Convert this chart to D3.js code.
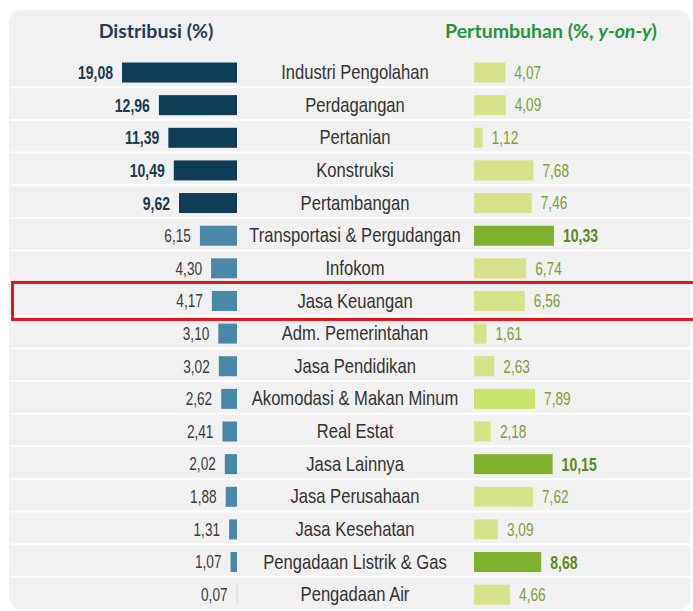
<!DOCTYPE html>
<html>
<head>
<meta charset="utf-8">
<script src="https://cdn.jsdelivr.net/npm/d3@7"></script>
<style>
  body { margin: 0; background: #fff; }
  svg { display: block; }
</style>
</head>
<body>
<svg width="693" height="611"></svg>
<script>
// sectors, share of GDP (%) and growth (%, y-on-y)
var sectors = ["Industri Pengolahan", "Perdagangan", "Pertanian", "Konstruksi", "Pertambangan",
  "Transportasi & Pergudangan", "Infokom", "Jasa Keuangan", "Adm. Pemerintahan", "Jasa Pendidikan",
  "Akomodasi & Makan Minum", "Real Estat", "Jasa Lainnya", "Jasa Perusahaan", "Jasa Kesehatan",
  "Pengadaan Listrik & Gas", "Pengadaan Air"];
var distribusi = [19.08, 12.96, 11.39, 10.49, 9.62, 6.15, 4.30, 4.17, 3.10, 3.02, 2.62, 2.41, 2.02, 1.88, 1.31, 1.07, 0.07];
var pertumbuhan = [4.07, 4.09, 1.12, 7.68, 7.46, 10.33, 6.74, 6.56, 1.61, 2.63, 7.89, 2.18, 10.15, 7.62, 3.09, 8.68, 4.66];
var highlight = "Jasa Keuangan";

var svg = d3.select("svg");
var fmt = function (v) { return d3.format(".2f")(v).replace(".", ","); };
var narrow = "'Liberation Sans', Arial, sans-serif";

var rows = sectors.map(function (s, i) { return { name: s, dist: distribusi[i], grow: pertumbuhan[i] }; });

// scales
var y = d3.scaleBand().domain(sectors).range([56.2, 611]).paddingInner(0);
var xL = d3.scaleLinear().domain([0, d3.max(distribusi)]).range([0, 115]);
var xR = d3.scaleLinear().domain([0, 10.33]).range([0, 80]);
var leftEnd = 237, rightStart = 474;
var barH = 20;
var colL = d3.scaleThreshold().domain([9]).range(["#4a88a8", "#0f3d57"]);
var colR = d3.scaleThreshold().domain([7.8, 8.5]).range(["#d8e28a", "#cbe46c", "#7fb02e"]);

// card
svg.append("rect")
  .attr("x", 9).attr("y", 10)
  .attr("width", 682).attr("height", 600)
  .attr("rx", 13)
  .attr("fill", "#f1f1f1");

// row separators
svg.append("g").selectAll("line")
  .data(sectors.slice(1))
  .enter().append("line")
    .attr("x1", 10).attr("x2", 691)
    .attr("y1", function (d) { return y(d) - 1.5; })
    .attr("y2", function (d) { return y(d) - 1.5; })
    .attr("stroke", "#ffffff")
    .attr("stroke-width", 2);

// headers
svg.append("text")
  .attr("x", 156).attr("y", 38)
  .attr("text-anchor", "middle")
  .attr("font-family", "Lato, sans-serif")
  .attr("font-weight", "bold")
  .attr("font-size", 19.5)
  .attr("fill", "#1d3d5a")
  .text("Distribusi (%)");

var h2 = svg.append("text")
  .attr("x", 551).attr("y", 38)
  .attr("text-anchor", "middle")
  .attr("font-family", "Lato, sans-serif")
  .attr("font-weight", "bold")
  .attr("font-size", 19.5)
  .attr("fill", "#22963c");
h2.append("tspan").text("Pertumbuhan (%, ");
h2.append("tspan").attr("font-style", "italic").text("y-on-y");
h2.append("tspan").text(")");

var g = svg.append("g").selectAll("g")
  .data(rows)
  .enter().append("g")
    .attr("transform", function (d) { return "translate(0," + (y(d.name) + y.bandwidth() / 2) + ")"; });

// left bars
g.append("rect")
  .attr("x", function (d) { return leftEnd - xL(d.dist); })
  .attr("y", -barH / 2)
  .attr("width", function (d) { return Math.max(xL(d.dist), 1); })
  .attr("height", barH)
  .attr("fill", function (d) { return d.dist < 1 ? "#d6d6d6" : colL(d.dist); });

// text is drawn narrow (squeezed like the original)
g.append("text")
  .attr("transform", function (d) { return "translate(" + (leftEnd - xL(d.dist) - 9) + ",0) scale(0.78,1)"; })
  .attr("dy", "0.36em")
  .attr("text-anchor", "end")
  .attr("font-family", narrow)
  .attr("font-size", function (d) { return d.dist >= 9 ? 18 : 17.5; })
  .attr("font-weight", function (d) { return d.dist >= 9 ? "bold" : "normal"; })
  .attr("fill", function (d) { return d.dist >= 9 ? "#1b3a50" : "#3c3c3c"; })
  .text(function (d) { return fmt(d.dist); });

// category names
g.append("text")
  .attr("transform", "translate(355,0) scale(0.83,1)")
  .attr("dy", "0.33em")
  .attr("text-anchor", "middle")
  .attr("font-family", narrow)
  .attr("font-size", 20)
  .attr("fill", "#333333")
  .text(function (d) { return d.name; });

// right bars
g.append("rect")
  .attr("x", rightStart)
  .attr("y", -barH / 2)
  .attr("width", function (d) { return xR(d.grow); })
  .attr("height", barH)
  .attr("fill", function (d) { return colR(d.grow); });

g.append("text")
  .attr("transform", function (d) { return "translate(" + (rightStart + xR(d.grow) + 9) + ",0) scale(0.78,1)"; })
  .attr("dy", "0.36em")
  .attr("font-family", narrow)
  .attr("font-size", function (d) { return d.grow >= 8.5 ? 18 : 17.5; })
  .attr("font-weight", function (d) { return d.grow >= 8.5 ? "bold" : "normal"; })
  .attr("fill", function (d) { return d.grow >= 8.5 ? "#5b8a1d" : "#7f9e36"; })
  .text(function (d) { return fmt(d.grow); });

// highlight box
svg.append("rect")
  .attr("x", 12.5)
  .attr("y", y(highlight) + y.bandwidth() / 2 - 18.5)
  .attr("width", 690)
  .attr("height", 37)
  .attr("fill", "none")
  .attr("stroke", "#e3141b")
  .attr("stroke-width", 3);
</script>
</body>
</html>
